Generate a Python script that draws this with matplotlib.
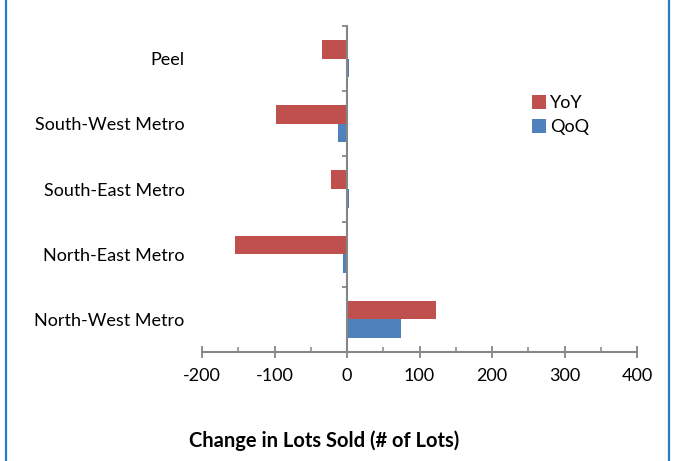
import matplotlib
matplotlib.use("Agg")
import matplotlib.pyplot as plt
from matplotlib.lines import Line2D
from matplotlib.ticker import MultipleLocator, FixedLocator, NullFormatter
import numpy as np

regions = ["North-West Metro", "North-East Metro", "South-East Metro",
           "South-West Metro", "Peel"]
yoy = [123, -155, -22, -98, -35]
qoq = [74, -6, 3, -12, 3]
xticks = [-200, -100, 0, 100, 200, 300, 400]

RED = "#C0504D"
BLUE = "#4F81BD"
AXIS = "#868686"

plt.rcParams["font.family"] = ["Lato", "DejaVu Sans"]
plt.rcParams["axes.unicode_minus"] = False

fig = plt.figure(figsize=(6.74, 4.61), dpi=100)
ax = fig.add_axes([202 / 674, 1 - 352 / 461, 435 / 674, 326 / 461])

y = np.arange(len(regions))
h = 0.285
ax.barh(y + h / 2, yoy, height=h, color=RED, label="YoY")
ax.barh(y - h / 2, qoq, height=h, color=BLUE, label="QoQ")

ax.set_xlim(-200, 400)
ax.set_ylim(-0.5, len(regions) - 0.5)

# x axis along the bottom, y axis through zero
for s in ("top", "right"):
    ax.spines[s].set_visible(False)
ax.spines["left"].set_position(("data", 0))
ax.spines["left"].set_color(AXIS)
ax.spines["bottom"].set_color(AXIS)
ax.spines["left"].set_linewidth(1.5)
ax.spines["bottom"].set_linewidth(1.5)

ax.xaxis.set_major_locator(FixedLocator(xticks))
ax.xaxis.set_minor_locator(MultipleLocator(50))
ax.tick_params(axis="x", which="major", direction="inout", length=8.6,
               width=1.3, color=AXIS, pad=7.5, labelsize=13, labelcolor="black")
ax.tick_params(axis="x", which="minor", direction="in", length=3.6,
               width=1.1, color=AXIS)

# y tick marks on category boundaries, labels on category centres
ax.yaxis.set_major_locator(FixedLocator(np.arange(-0.5, len(regions), 1.0)))
ax.yaxis.set_major_formatter(NullFormatter())
ax.yaxis.set_minor_locator(FixedLocator(y))
ax.set_yticklabels(regions, minor=True)
ax.tick_params(axis="y", which="major", direction="out", length=3.6,
               width=1.3, color=AXIS)
ax.tick_params(axis="y", which="minor", length=0, pad=117,
               labelsize=13, labelcolor="black")

fig.legend(loc="upper left", bbox_to_anchor=(525 / 674, 1 - 88 / 461),
           frameon=False, fontsize=13, handlelength=0.75, handleheight=0.75,
           handletextpad=0.25, labelspacing=0.45, borderaxespad=0)

fig.text(324 / 674, 1 - 441 / 461, "Change in Lots Sold (# of Lots)",
         ha="center", va="center", fontsize=14.5, fontweight="bold")

# blue frame edges
for xf in (5.5 / 674, 668.5 / 674):
    fig.add_artist(Line2D([xf, xf], [0, 1], transform=fig.transFigure,
                          color="#2B7BC4", linewidth=1.6))

fig.savefig("out.png", dpi=100)
